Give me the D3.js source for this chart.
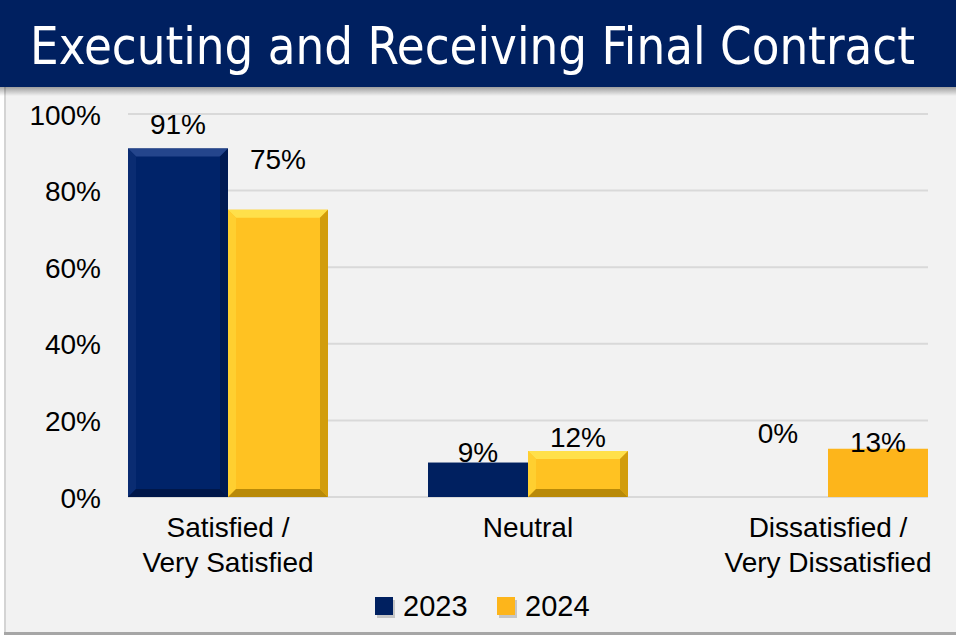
<!DOCTYPE html>
<html lang="en">
<head>
  <meta charset="utf-8">
  <title>Executing and Receiving Final Contract</title>
  <script src="https://d3js.org/d3.v7.min.js"></script>
  <style>
    body { margin: 0; background: #ffffff; }
    #chart text { font-family: "Liberation Sans", Arial, sans-serif; fill: #000; }
    #chart .title { font-family: "Liberation Sans Narrow", "DejaVu Sans Condensed", sans-serif; fill: #fff; }
  </style>
</head>
<body>
  <div id="chart"></div>

  <script type="text/javascript">
    "use strict"

    // dados
    var titulo = "Executing and Receiving Final Contract";
    var categorias = ["Satisfied / Very Satisfied", "Neutral", "Dissatisfied / Very Dissatisfied"];
    var rotulosCategoria = [["Satisfied /", "Very Satisfied"], ["Neutral"], ["Dissatisfied /", "Very Dissatisfied"]];
    var series = ["2023", "2024"];
    var valores2023 = [0.91, 0.09, 0.00];
    var valores2024 = [0.75, 0.12, 0.126];
    var yTicks = [0, 0.2, 0.4, 0.6, 0.8, 1.0];

    // ajustes dos rotulos (px) como no original
    var ajusteRotulo = [[-14, -41], [-1, -4], [-54, 3]];

    var largura = 956, altura = 635;

    var svg = d3.select('#chart').append('svg')
      .attr('width', largura)
      .attr('height', altura);

    var defs = svg.append('defs');
    var sombra = defs.append('linearGradient').attr('id', 'sombra')
      .attr('x1', 0).attr('y1', 0).attr('x2', 0).attr('y2', 1);
    sombra.append('stop').attr('offset', '0%').attr('stop-color', '#000').attr('stop-opacity', 0.35);
    sombra.append('stop').attr('offset', '100%').attr('stop-color', '#000').attr('stop-opacity', 0);

    // painel do grafico
    svg.append('rect').attr('x', 4).attr('y', 87).attr('width', largura - 4).attr('height', 545)
      .attr('fill', '#f2f2f2');
    svg.append('rect').attr('x', 4).attr('y', 87).attr('width', 2).attr('height', 545)
      .attr('fill', '#d4d4d4');
    svg.append('rect').attr('x', 4).attr('y', 632).attr('width', largura - 4).attr('height', 3)
      .attr('fill', '#a6a6a6');

    // barra do titulo
    svg.append('rect').attr('x', 0).attr('y', 87).attr('width', largura).attr('height', 9)
      .attr('fill', 'url(#sombra)');
    svg.append('rect').attr('x', 0).attr('y', 0).attr('width', largura).attr('height', 87)
      .attr('fill', '#002060');
    svg.append('text').attr('class', 'title')
      .attr('x', 30).attr('y', 64)
      .attr('font-size', 52)
      .attr('textLength', 885)
      .attr('lengthAdjust', 'spacingAndGlyphs')
      .text(titulo);

    // escalas
    var x0 = d3.scaleBand().domain(categorias).range([78, 978]).paddingInner(1 / 3).paddingOuter(1 / 6);
    var x1 = d3.scaleBand().domain(series).range([0, x0.bandwidth()]);
    var y = d3.scaleLinear().domain([0, 1]).range([497, 114]);

    // linhas de grade
    svg.append('g').selectAll('line')
      .data(yTicks)
      .enter().append('line')
        .attr('x1', 128).attr('x2', 928)
        .attr('y1', d => y(d)).attr('y2', d => y(d))
        .attr('stroke', '#d9d9d9').attr('stroke-width', 2);

    // eixo y
    var eixoY = svg.append('g')
      .attr('transform', 'translate(101,0)')
      .call(d3.axisLeft(y).tickValues(yTicks).tickFormat(d3.format('.0%')).tickSize(0).tickPadding(0));
    eixoY.select('.domain').remove();
    eixoY.selectAll('text').attr('font-size', 28).attr('font-family', null).attr('dy', '0.36em');

    // dados em formato de tabela
    var tabela = categorias.map((c, i) => ({
      categoria: c,
      barras: [
        { serie: "2023", valor: valores2023[i], ajuste: ajusteRotulo[i][0] },
        { serie: "2024", valor: valores2024[i], ajuste: ajusteRotulo[i][1] }
      ]
    }));

    var cores = {
      "2023": { base: '#002369', cima: '#24458c', esq: '#0a2c72', dir: '#001a52', baixo: '#00174a', plano: '#002060' },
      "2024": { base: '#ffc222', cima: '#ffe04a', esq: '#ffcf30', dir: '#d29d0c', baixo: '#b98a08', plano: '#fdb51b' }
    };
    // barras sem chanfro no original
    var planas = { "Neutral|2023": true, "Dissatisfied / Very Dissatisfied|2024": true };

    var grupos = svg.append('g').selectAll('g')
      .data(tabela)
      .enter().append('g')
        .attr('transform', d => 'translate(' + x0(d.categoria) + ',0)');

    var barras = grupos.selectAll('g')
      .data(d => d.barras.map(b => Object.assign({ categoria: d.categoria }, b)))
      .enter().append('g')
        .attr('transform', d => 'translate(' + x1(d.serie) + ',' + y(d.valor) + ')');

    barras.each(function (d) {
      var g = d3.select(this);
      var w = x1.bandwidth(), h = y(0) - y(d.valor);
      if (h <= 0) return;
      var c = cores[d.serie];
      if (planas[d.categoria + '|' + d.serie]) {
        g.append('rect').attr('width', w).attr('height', h).attr('fill', c.plano);
        return;
      }
      var b = Math.min(8, h / 2);
      g.append('rect').attr('width', w).attr('height', h).attr('fill', c.base);
      var pts = [
        [[0, 0], [w, 0], [w - b, b], [b, b], c.cima],
        [[0, 0], [b, b], [b, h - b], [0, h], c.esq],
        [[w, 0], [w, h], [w - b, h - b], [w - b, b], c.dir],
        [[0, h], [b, h - b], [w - b, h - b], [w, h], c.baixo]
      ];
      pts.forEach(p => {
        g.append('polygon')
          .attr('points', p.slice(0, 4).map(q => q.join(',')).join(' '))
          .attr('fill', p[4]);
      });
    });

    // rotulos de dados
    grupos.selectAll('text.rotulo')
      .data(d => d.barras)
      .enter().append('text')
        .attr('class', 'rotulo')
        .attr('x', d => x1(d.serie) + x1.bandwidth() / 2)
        .attr('y', d => y(d.valor) + d.ajuste)
        .attr('text-anchor', 'middle')
        .attr('font-size', 28)
        .text(d => d3.format('.0%')(d.valor));

    // rotulos das categorias
    svg.append('g').selectAll('text')
      .data(categorias)
      .enter().append('text')
        .attr('text-anchor', 'middle')
        .attr('font-size', 28)
        .attr('x', d => x0(d) + x0.bandwidth() / 2)
        .attr('y', y(0) + 40)
        .each(function (d, i) {
          d3.select(this).selectAll('tspan')
            .data(rotulosCategoria[i])
            .enter().append('tspan')
              .attr('x', x0(d) + x0.bandwidth() / 2)
              .attr('dy', (t, j) => j === 0 ? 0 : 35)
              .text(t => t);
        });

    // legenda
    var legenda = svg.append('g').attr('transform', 'translate(375,597)');
    var itens = legenda.selectAll('g')
      .data(series)
      .enter().append('g')
        .attr('transform', (d, i) => 'translate(' + (i * 122) + ',0)');
    itens.append('rect').attr('x', 2).attr('y', 3).attr('width', 18).attr('height', 18)
      .attr('fill', '#000').attr('opacity', 0.18);
    itens.append('rect').attr('width', 18).attr('height', 18)
      .attr('fill', d => cores[d].plano);
    itens.append('text')
      .attr('x', 28).attr('y', 19)
      .attr('font-size', 29)
      .text(d => d);
  </script>
</body>
</html>
